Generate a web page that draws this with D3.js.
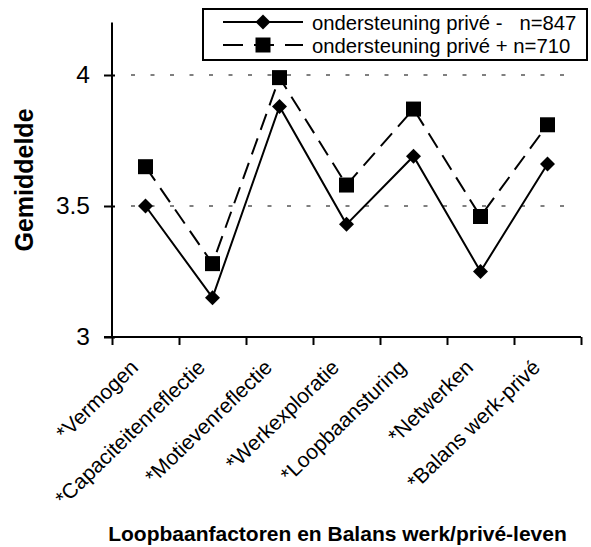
<!DOCTYPE html>
<html>
<head>
<meta charset="utf-8">
<script src="https://cdn.jsdelivr.net/npm/d3@7"></script>
<style>
  html, body { margin: 0; padding: 0; background: #fff; }
  svg { display: block; font-family: "Liberation Sans", Arial, sans-serif; }
</style>
</head>
<body>
<svg id="chart" width="591" height="547"></svg>
<script>
// Categories on the x axis
const categories = [
  "*Vermogen",
  "*Capaciteitenreflectie",
  "*Motievenreflectie",
  "*Werkexploratie",
  "*Loopbaansturing",
  "*Netwerken",
  "*Balans werk-privé"
];

// Mean scores per group
const supportMinus = [3.50, 3.15, 3.88, 3.43, 3.69, 3.25, 3.66];
const supportPlus  = [3.65, 3.28, 3.99, 3.58, 3.87, 3.46, 3.81];

const seriesNames = ["ondersteuning privé -   n=847", "ondersteuning privé + n=710"];
const yTicks = [3, 3.5, 4];
const gridTicks = [3.5, 4];

const svg = d3.select("#chart");

const plot = { left: 112, right: 581, top: 22.6, bottom: 337 };

const x = d3.scaleBand().domain(categories).range([plot.left, plot.right]).paddingInner(0).paddingOuter(0);
const xEdges = d3.scaleLinear().domain([0, categories.length]).range([plot.left, plot.right]);
const y = d3.scaleLinear().domain([3, 4.2]).range([plot.bottom, plot.top]);

// Dashed horizontal gridlines
svg.append("g").selectAll("line").data(gridTicks).join("line")
  .attr("x1", 131).attr("x2", 567)
  .attr("y1", d => y(d)).attr("y2", d => y(d))
  .attr("stroke", "#000").attr("stroke-width", 1)
  .attr("stroke-dasharray", "4,15.5");

// Y axis
const yAxis = svg.append("g")
  .attr("transform", `translate(${plot.left},0)`)
  .call(d3.axisLeft(y).tickValues(yTicks).tickFormat(d3.format("")).tickSizeInner(8).tickSizeOuter(0).tickPadding(14));
yAxis.select(".domain").attr("stroke-width", 2).attr("d", `M0,${plot.top}V${plot.bottom}`);
yAxis.selectAll(".tick line").attr("x1", 3).attr("stroke-width", 2);
yAxis.selectAll(".tick text").attr("font-size", 24.5).attr("font-family", "Liberation Sans, Arial, sans-serif").attr("fill", "#000");

// X axis (ticks on category boundaries)
const xAxis = svg.append("g")
  .attr("transform", `translate(0,${plot.bottom})`)
  .call(d3.axisBottom(xEdges).tickValues(d3.range(categories.length + 1)).tickFormat("").tickSizeInner(8).tickSizeOuter(0));
xAxis.select(".domain").attr("stroke-width", 2).attr("d", `M${plot.left - 8},0H${plot.right}`);
xAxis.selectAll(".tick line").attr("stroke-width", 2);

// Rotated category labels
svg.append("g").selectAll("text").data(categories).join("text")
  .attr("transform", d => `translate(${x(d) + x.bandwidth() / 2 - 6},${plot.bottom + 32}) rotate(-44)`)
  .attr("text-anchor", "end")
  .attr("font-size", 21)
  .attr("fill", "#000")
  .text(d => d);

// Axis titles
svg.append("text")
  .attr("transform", `translate(33,180) rotate(-90)`)
  .attr("text-anchor", "middle")
  .attr("font-size", 25).attr("font-weight", "bold")
  .text("Gemiddelde");

svg.append("text")
  .attr("x", 337.5).attr("y", 541)
  .attr("text-anchor", "middle")
  .attr("font-size", 21).attr("font-weight", "bold")
  .text("Loopbaanfactoren en Balans werk/privé-leven");

// Series lines
const line = d3.line().x((d, i) => x(categories[i]) + x.bandwidth() / 2).y(d => y(d));

svg.append("path").datum(supportPlus)
  .attr("d", line).attr("fill", "none")
  .attr("stroke", "#000").attr("stroke-width", 2)
  .attr("stroke-dasharray", "17,9");

svg.append("path").datum(supportMinus)
  .attr("d", line).attr("fill", "none")
  .attr("stroke", "#000").attr("stroke-width", 2);

const diamond = d3.symbol().type(d3.symbolSquare).size(112);
const square = d3.symbol().type(d3.symbolSquare).size(225);

svg.append("g").selectAll("path").data(supportPlus).join("path")
  .attr("transform", (d, i) => `translate(${x(categories[i]) + x.bandwidth() / 2},${y(d)})`)
  .attr("d", square).attr("fill", "#000");

svg.append("g").selectAll("path").data(supportMinus).join("path")
  .attr("transform", (d, i) => `translate(${x(categories[i]) + x.bandwidth() / 2},${y(d)}) rotate(45)`)
  .attr("d", diamond).attr("fill", "#000");

// Legend
const legend = svg.append("g");
legend.append("rect")
  .attr("x", 203).attr("y", 9).attr("width", 384).attr("height", 51)
  .attr("fill", "#fff").attr("stroke", "#000").attr("stroke-width", 2);

const rows = [22, 45];
legend.append("line").attr("x1", 223).attr("x2", 303).attr("y1", rows[0]).attr("y2", rows[0])
  .attr("stroke", "#000").attr("stroke-width", 2);
legend.append("path").attr("transform", `translate(263,${rows[0]}) rotate(45)`).attr("d", diamond).attr("fill", "#000");
legend.append("line").attr("x1", 223).attr("x2", 303).attr("y1", rows[1]).attr("y2", rows[1])
  .attr("stroke", "#000").attr("stroke-width", 2).attr("stroke-dasharray", "20,11");
legend.append("path").attr("transform", `translate(263,${rows[1]})`).attr("d", square).attr("fill", "#000");

legend.selectAll("text.lbl").data(seriesNames).join("text")
  .attr("class", "lbl")
  .attr("x", 312).attr("y", (d, i) => rows[i] + 7.5)
  .attr("font-size", 20.3)
  .style("white-space", "pre")
  .text(d => d);
</script>
</body>
</html>
